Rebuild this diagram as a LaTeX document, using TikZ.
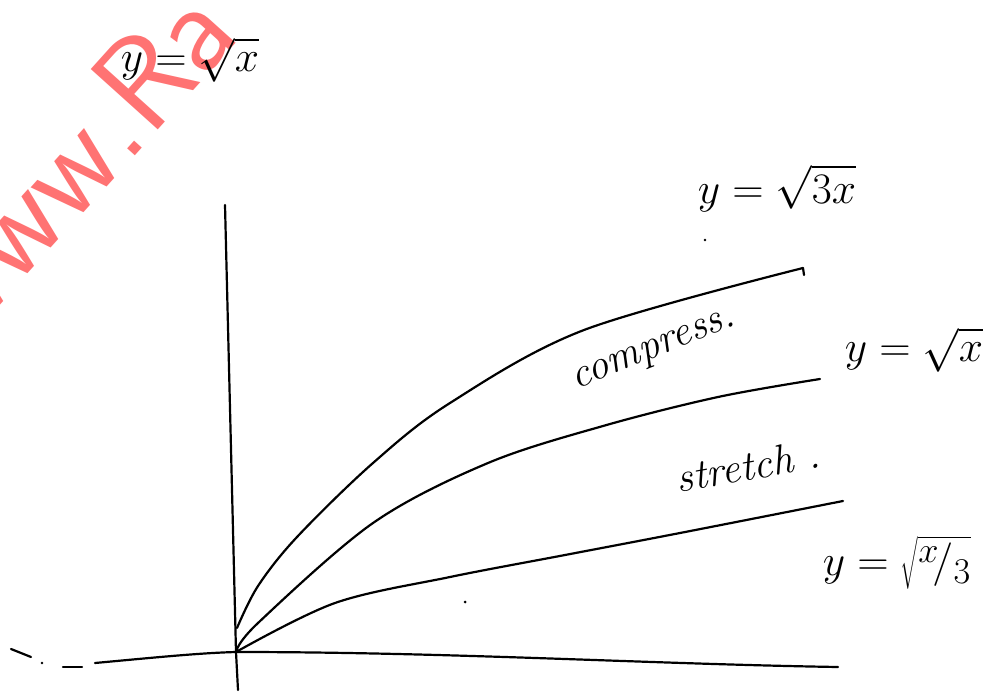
\documentclass[tikz,border=0pt]{standalone}
\usepackage{tikz}

\tikzset{
  pen/.style={black, line width=2.2pt, line cap=round, line join=round},
  eqn/.style={font=\Huge},
  word/.style={font=\fontsize{42}{46}\selectfont\itshape},
  wmark/.style={red!55, font=\fontsize{130}{136}\selectfont\sffamily},
}
\newcommand{\bigeq}[1]{\scalebox{1.75}{$#1$}}

\begin{document}
\begin{tikzpicture}[x=1pt,y=-1pt]
\useasboundingbox (0,0) rectangle (1001,695);
\begin{scope}
\clip (0,0) rectangle (1001,695);
\node[wmark, rotate=48, anchor=base west, inner sep=0pt] (wm) at (-40,350) {www.Ra};
\end{scope}
% axes
\coordinate (O) at (236,652);
\coordinate (ytop) at (225,205);
\coordinate (ybot) at (238,690);
\coordinate (xl) at (95,663);
\coordinate (xr) at (838,667);
\draw[pen] (ytop) -- (O) -- (ybot);
\draw[pen] (xl) .. controls (160,657) and (200,653) .. (O) .. controls (450,652) and (650,664) .. (xr);
\draw[pen] (11,649) -- (31,657);
\draw[pen] (63,667) -- (82,667);
\fill (42,663) circle (1.3);
% the three curves
\draw[pen] plot[smooth, tension=0.55] coordinates {(237,628) (258,586) (297,537) (373,463) (450,403) (584,330) (803,268)} -- (804,275);
\draw[pen] plot[smooth, tension=0.55] coordinates {(O) (258,623) (373,523) (488,463) (603,426) (718,397) (820,379)};
\draw[pen] plot[smooth, tension=0.55] coordinates {(O) (335,603) (450,577) (565,555) (680,533) (843,501)};
\fill (465,602) circle (1.5);
\fill (705,240) circle (1.3);
% labels
\node[eqn] (lbase) at (190,60) {\bigeq{y=\sqrt{x}}};
\node[eqn] (lcomp) at (777,188) {\bigeq{y=\sqrt{3x}}};
\node[eqn] (lmid) at (914,350) {\bigeq{y=\sqrt{x}}};
\node[eqn] (lstr) at (897,563) {\bigeq{y=\sqrt{{}^{x}\!/{}_{3}}}};
\node[word, rotate=22] (comp) at (655,352) {compress.};
\node[word, rotate=10] (str) at (748,466) {stretch .};
\end{tikzpicture}
\end{document}
